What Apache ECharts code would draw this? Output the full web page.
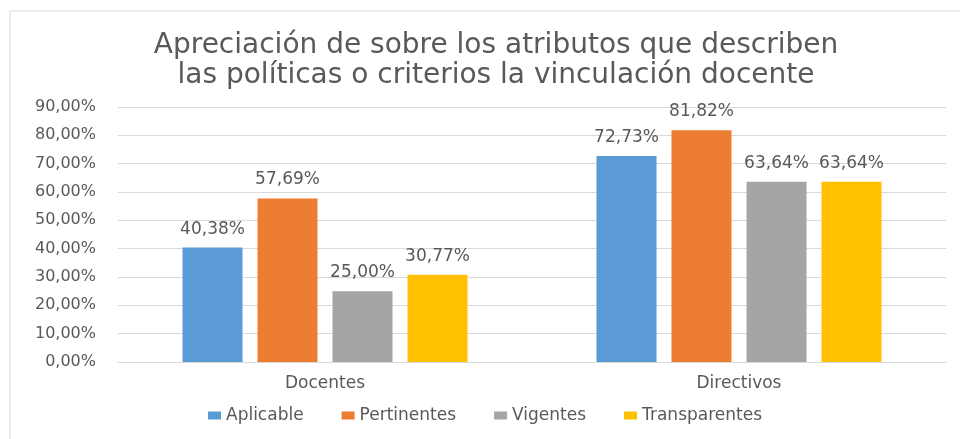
<!DOCTYPE html>
<html>
<head>
<meta charset="utf-8">
<script src="https://cdn.jsdelivr.net/npm/echarts@6/dist/echarts.min.js"></script>
<style>
  html, body { margin: 0; padding: 0; background: #fff; }
  #chart { width: 960px; height: 439px; }
</style>
</head>
<body>
<div id="chart"></div>
<script>
var categories = ['Docentes', 'Directivos'];
var aplicable = [40.38, 72.73];
var pertinentes = [57.69, 81.82];
var vigentes = [25.00, 63.64];
var transparentes = [30.77, 63.64];
var seriesNames = ['Aplicable', 'Pertinentes', 'Vigentes', 'Transparentes'];
var colors = ['#5b9bd5', '#ed7d31', '#a5a5a5', '#ffc000'];

var myChart = echarts.init(document.getElementById('chart'));

function pct(v) {
  return v.toFixed(2).replace('.', ',') + '%';
}

var labelFont = 'DejaVu Sans';

function bar(name, data) {
  return {
    name: name,
    type: 'bar',
    data: data,
    barWidth: 60,
    barGap: '25%',
    label: {
      show: true,
      position: 'top',
      distance: 10,
      color: '#595959',
      fontFamily: labelFont,
      fontSize: 17,
      formatter: function (p) { return pct(p.value); }
    }
  };
}

option = {
  color: colors,
  graphic: [
    {
      type: 'rect',
      shape: { x: 10, y: 11, width: 960, height: 440 },
      style: { fill: 'none', stroke: '#d9d9d9', lineWidth: 1 }
    }
  ],
  title: {
    text: 'Apreciación de sobre los atributos que describen\nlas políticas o criterios la vinculación docente',
    left: 491,
    textAlign: 'center',
    top: 26,
    textStyle: {
      color: '#595959',
      fontFamily: 'DejaVu Sans',
      fontWeight: 'normal',
      fontSize: 28,
      lineHeight: 30
    }
  },
  legend: {
    bottom: 10,
    left: 203,
    itemWidth: 13,
    itemHeight: 8,
    itemGap: 38,
    icon: 'rect',
    textStyle: {
      color: '#595959',
      fontFamily: labelFont,
      fontSize: 17
    },
    data: seriesNames
  },
  grid: {
    left: 118,
    right: 14,
    top: 107,
    bottom: 77
  },
  xAxis: {
    type: 'category',
    data: categories,
    axisTick: { show: false },
    axisLine: { lineStyle: { color: '#d9d9d9' } },
    axisLabel: {
      color: '#595959',
      fontFamily: labelFont,
      fontSize: 17,
      margin: 13
    }
  },
  yAxis: {
    type: 'value',
    min: 0,
    max: 90,
    interval: 10,
    axisLine: { show: false },
    axisTick: { show: false },
    splitLine: { lineStyle: { color: '#d9d9d9' } },
    axisLabel: {
      color: '#595959',
      fontFamily: labelFont,
      fontSize: 16,
      margin: 22,
      formatter: function (v) { return pct(v); }
    }
  },
  series: [
    bar(seriesNames[0], aplicable),
    bar(seriesNames[1], pertinentes),
    bar(seriesNames[2], vigentes),
    bar(seriesNames[3], transparentes)
  ]
};

myChart.setOption(option);

window.addEventListener('resize', function () {
  myChart.resize();
});
</script>
</body>
</html>
